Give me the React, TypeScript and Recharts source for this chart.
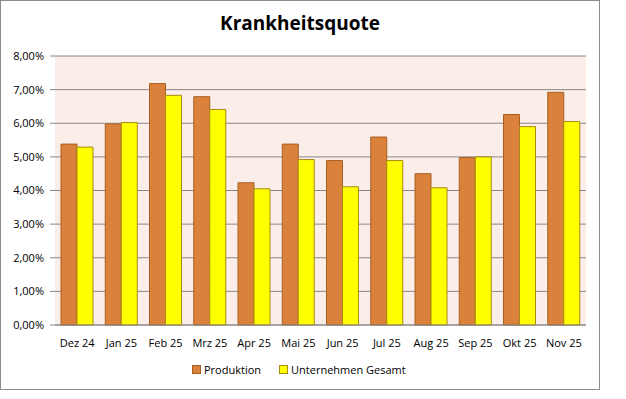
import React from "react";
import { BarChart, Bar, XAxis, YAxis, CartesianGrid } from "recharts";

const months = ["Dez 24", "Jan 25", "Feb 25", "Mrz 25", "Apr 25", "Mai 25", "Jun 25", "Jul 25", "Aug 25", "Sep 25", "Okt 25", "Nov 25"];
const produktion = [5.38, 5.98, 7.18, 6.79, 4.23, 5.38, 4.89, 5.59, 4.5, 4.98, 6.26, 6.92];
const gesamt = [5.29, 6.02, 6.83, 6.41, 4.05, 4.92, 4.11, 4.89, 4.08, 5.0, 5.9, 6.05];
const yTicks = [0, 1, 2, 3, 4, 5, 6, 7, 8];
const seriesNames = ["Produktion", "Unternehmen Gesamt"];

const data = months.map((m, i) => ({ month: m, produktion: produktion[i], gesamt: gesamt[i] }));

const FONT = "'Open Sans', sans-serif";
const PROD_FILL = "#DA823C";
const PROD_STROKE = "#A95F22";
const GES_FILL = "#FFFF00";
const GES_STROKE = "#A88A10";

const fmt = (v: number) => v.toFixed(2).replace(".", ",") + "%";

export default function App() {
  return (
    <div style={{ position: "absolute", left: 0, top: 0, width: 598, height: 388, border: "1px solid #8c8c8c", background: "#fff", fontFamily: FONT }}>
      <div style={{ position: "absolute", left: 0, top: 9, width: 598, textAlign: "center", fontSize: 19, fontWeight: 700, color: "#000" }}>
        Krankheitsquote
      </div>
      <BarChart
        width={598}
        height={388}
        data={data}
        margin={{ top: 55, right: 13, bottom: 34, left: 0 }}
        barCategoryGap={6}
        barGap={0}
      >
        <CartesianGrid vertical={false} stroke="#888888" fill="#FBEDE7" />
        <XAxis
          dataKey="month"
          height={30}
          tickLine={false}
          axisLine={{ stroke: "#888888" }}
          tick={{ fontSize: 11, fill: "#000", fontFamily: FONT }}
          tickMargin={8}
          interval={0}
        />
        <YAxis
          width={54}
          domain={[0, 8]}
          ticks={yTicks}
          tickFormatter={fmt}
          axisLine={false}
          tickLine={{ stroke: "#888888" }}
          tickSize={5}
          tickMargin={6}
          tick={{ fontSize: 11, fill: "#000", fontFamily: FONT }}
        />
        <Bar dataKey="produktion" name={seriesNames[0]} fill={PROD_FILL} stroke={PROD_STROKE} isAnimationActive={false} />
        <Bar dataKey="gesamt" name={seriesNames[1]} fill={GES_FILL} stroke={GES_STROKE} isAnimationActive={false} />
      </BarChart>
      <div style={{ position: "absolute", left: 191, top: 361, display: "flex", alignItems: "center", fontSize: 11, color: "#000", whiteSpace: "nowrap" }}>
        <span style={{ display: "inline-block", width: 7, height: 7, background: PROD_FILL, border: `1px solid ${PROD_STROKE}`, marginRight: 3 }} />
        <span style={{ marginRight: 18 }}>{seriesNames[0]}</span>
        <span style={{ display: "inline-block", width: 7, height: 7, background: GES_FILL, border: `1px solid ${GES_STROKE}`, marginRight: 3 }} />
        <span>{seriesNames[1]}</span>
      </div>
    </div>
  );
}
